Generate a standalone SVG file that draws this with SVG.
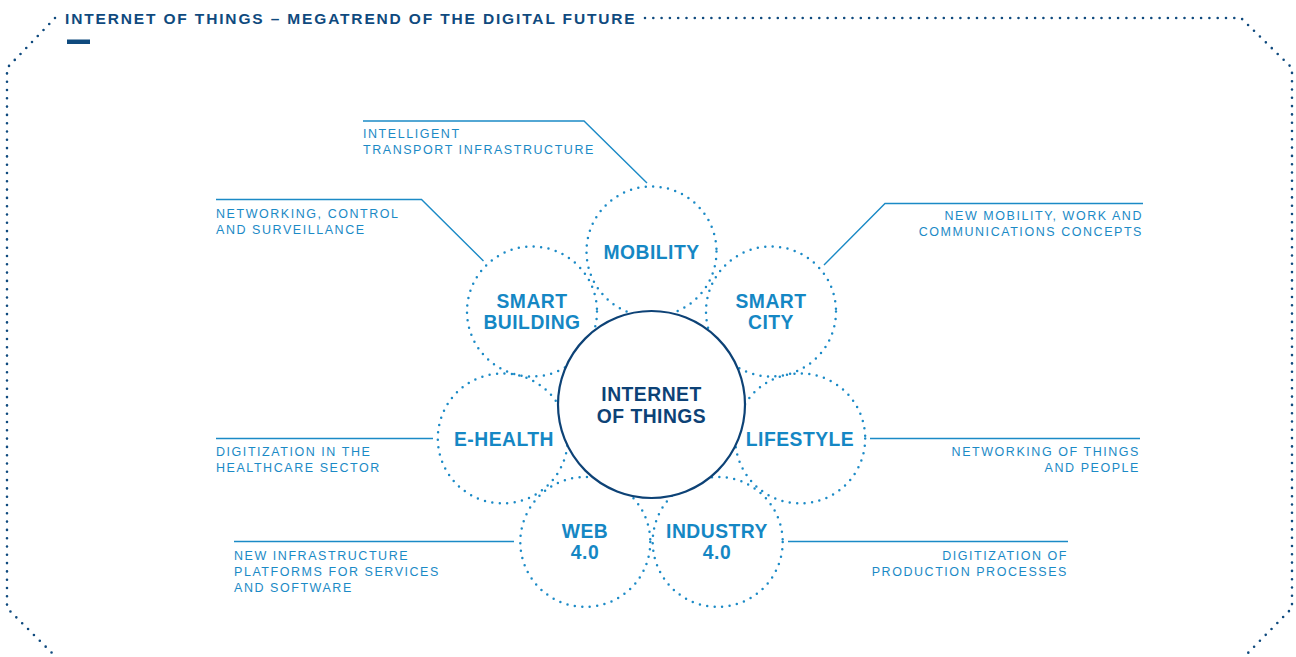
<svg xmlns="http://www.w3.org/2000/svg" width="1296" height="657" viewBox="0 0 1296 657">
<style>
.frame{fill:none;stroke:#0f4a7e;stroke-width:2.6;stroke-linecap:round;stroke-dasharray:0 8.3}
.dot{fill:none;stroke:#1b8ac6;stroke-width:2.5;stroke-linecap:round;stroke-dasharray:0 7.5}
.core{fill:#fff;stroke:#0d4276;stroke-width:2.2}
.lbl{font-family:"Liberation Sans",Arial,sans-serif;font-weight:bold;font-size:19.3px;letter-spacing:0.5px;fill:#1587c4;text-anchor:middle}
.corelbl{font-family:"Liberation Sans",Arial,sans-serif;font-weight:bold;font-size:19.3px;letter-spacing:0.5px;fill:#0d4276;text-anchor:middle}
.note{font-family:"Liberation Sans",Arial,sans-serif;font-size:12.5px;letter-spacing:1.55px;fill:#1b8ac6}
.end{text-anchor:end}
.conn{fill:none;stroke:#1b8ac6;stroke-width:1.4}
.title{font-family:"Liberation Sans",Arial,sans-serif;font-weight:bold;font-size:15.5px;letter-spacing:1.85px;fill:#0f4a7e}
</style>
<g id="frame">
<path class="frame" d="M645 18 L1241 18 L1292 68 L1292 608 L1247 654"/>
<path class="frame" d="M55 18 L7 68 L7 608 L54 655"/>
<text class="title" x="65" y="24">INTERNET OF THINGS – MEGATREND OF THE DIGITAL FUTURE</text>
<rect x="67" y="39.5" width="23" height="4.5" fill="#0f4a7e"/>
</g>
<g id="connectors">
<polyline class="conn" points="363,121 584,121 647,183"/>
<polyline class="conn" points="216,199.5 421.5,199.5 483.5,261"/>
<polyline class="conn" points="1143,203.5 885,203.5 824,265"/>
<line class="conn" x1="216" y1="438.5" x2="433" y2="438.5"/>
<line class="conn" x1="870" y1="438.5" x2="1140" y2="438.5"/>
<line class="conn" x1="234" y1="541.5" x2="514" y2="541.5"/>
<line class="conn" x1="788" y1="541.5" x2="1068" y2="541.5"/>
</g>
<g id="notes">
<text class="note" x="363" y="137.5">INTELLIGENT</text>
<text class="note" x="363" y="153.5">TRANSPORT INFRASTRUCTURE</text>
<text class="note" x="216" y="217.5">NETWORKING, CONTROL</text>
<text class="note" x="216" y="233.5">AND SURVEILLANCE</text>
<text class="note end" x="1143" y="219.5">NEW MOBILITY, WORK AND</text>
<text class="note end" x="1143" y="236">COMMUNICATIONS CONCEPTS</text>
<text class="note" x="216" y="456">DIGITIZATION IN THE</text>
<text class="note" x="216" y="472">HEALTHCARE SECTOR</text>
<text class="note end" x="1140" y="456">NETWORKING OF THINGS</text>
<text class="note end" x="1140" y="472">AND PEOPLE</text>
<text class="note" x="234" y="560">NEW INFRASTRUCTURE</text>
<text class="note" x="234" y="576">PLATFORMS FOR SERVICES</text>
<text class="note" x="234" y="592">AND SOFTWARE</text>
<text class="note end" x="1068" y="559.5">DIGITIZATION OF</text>
<text class="note end" x="1068" y="575.5">PRODUCTION PROCESSES</text>
</g>
<g id="mobility"><circle class="dot" cx="651.5" cy="251.5" r="65"/><text class="lbl" x="651.5" y="259">MOBILITY</text></g>
<g id="smart-building"><circle class="dot" cx="532" cy="311.5" r="65"/><text class="lbl" x="532" y="308">SMART</text><text class="lbl" x="532" y="329">BUILDING</text></g>
<g id="smart-city"><circle class="dot" cx="771" cy="311.5" r="65"/><text class="lbl" x="771" y="308">SMART</text><text class="lbl" x="771" y="329">CITY</text></g>
<g id="e-health"><circle class="dot" cx="502.8" cy="438.4" r="65"/><text class="lbl" x="504" y="445.5">E-HEALTH</text></g>
<g id="lifestyle"><circle class="dot" cx="800.2" cy="438.4" r="65"/><text class="lbl" x="800" y="445.5">LIFESTYLE</text></g>
<g id="web"><circle class="dot" cx="585.3" cy="541.9" r="65"/><text class="lbl" x="585" y="538">WEB</text><text class="lbl" x="585" y="559">4.0</text></g>
<g id="industry"><circle class="dot" cx="717.7" cy="541.9" r="65"/><text class="lbl" x="717" y="538">INDUSTRY</text><text class="lbl" x="717" y="559">4.0</text></g>
<g id="iot"><circle class="core" cx="651.5" cy="404.5" r="93.5"/><text class="corelbl" x="651.5" y="400.5">INTERNET</text><text class="corelbl" x="651.5" y="423">OF THINGS</text></g>
</svg>
